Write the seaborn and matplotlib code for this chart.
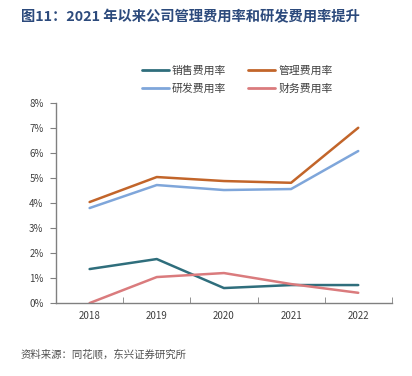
import pandas as pd
import seaborn as sns
import matplotlib.pyplot as plt
from matplotlib.ticker import FixedLocator, PercentFormatter

years = ["2018", "2019", "2020", "2021", "2022"]
sales_rate = [1.36, 1.76, 0.60, 0.72, 0.72]
admin_rate = [4.04, 5.04, 4.88, 4.81, 7.01]
rd_rate = [3.80, 4.72, 4.52, 4.56, 6.08]
finance_rate = [0.00, 1.04, 1.20, 0.76, 0.41]

series = ["销售费用率", "管理费用率", "研发费用率", "财务费用率"]
colors = ["#2F6E7C", "#C2652A", "#7FA6DA", "#DA7B7D"]

rows = []
for name, vals in zip(series, [sales_rate, admin_rate, rd_rate, finance_rate]):
    for i, v in enumerate(vals):
        rows.append({"idx": i, "value": v, "series": name})
df = pd.DataFrame(rows)

sns.set_style("white")
plt.rcParams['font.family'] = ['Noto Sans CJK SC', 'DejaVu Sans']

fig = plt.figure(figsize=(4.12, 3.76), dpi=100)
ax = fig.add_axes([0.136, 0.194, 0.815, 0.532])

sns.lineplot(data=df, x="idx", y="value", hue="series", hue_order=series,
             palette=colors, linewidth=1.8, ax=ax, legend=False)

ax.set_xlim(-0.5, 4.5)
ax.set_ylim(0, 8)
ax.set_xticks(range(len(years)))
ax.set_xticklabels(years)
ax.xaxis.set_minor_locator(FixedLocator([i - 0.5 for i in range(len(years) + 1)]))
ax.tick_params(axis="x", which="major", length=0, labelsize=7, labelcolor="#404040", pad=6)
ax.tick_params(axis="x", which="minor", length=4, color="#808080", direction="in", bottom=True)
ax.set_yticks(range(0, 9))
ax.yaxis.set_major_formatter(PercentFormatter(decimals=0))
ax.tick_params(axis="y", length=4, color="#808080", direction="out", left=True,
               labelsize=7, labelcolor="#404040", pad=5)
ax.set_xlabel("")
ax.set_ylabel("")
for s in ["top", "right"]:
    ax.spines[s].set_visible(False)
for s in ["left", "bottom"]:
    ax.spines[s].set_color("#808080")
    ax.spines[s].set_linewidth(1.0)

# legend fills column-wise: reorder so rows read 销售/管理, 研发/财务
order = [0, 2, 1, 3]
handles = [plt.Line2D([], [], color=colors[i], linewidth=2) for i in order]
labels = [series[i] for i in order]
fig.legend(handles, labels, loc="upper left", bbox_to_anchor=(0.32, 0.853),
           ncol=2, frameon=False, fontsize=7.8, handlelength=2.5,
           columnspacing=2.0, labelspacing=0.75, handletextpad=0.3,
           labelcolor="#404040")

fig.text(0.05, 0.955, "图11：2021 年以来公司管理费用率和研发费用率提升",
         fontsize=10.3, fontweight="bold", color="#2C4A7C", ha="left", va="center")
fig.text(0.05, 0.057, "资料来源：同花顺，东兴证券研究所", fontsize=7.5,
         style="italic", color="#505050", ha="left", va="center")

fig.savefig("out.png", dpi=100)
